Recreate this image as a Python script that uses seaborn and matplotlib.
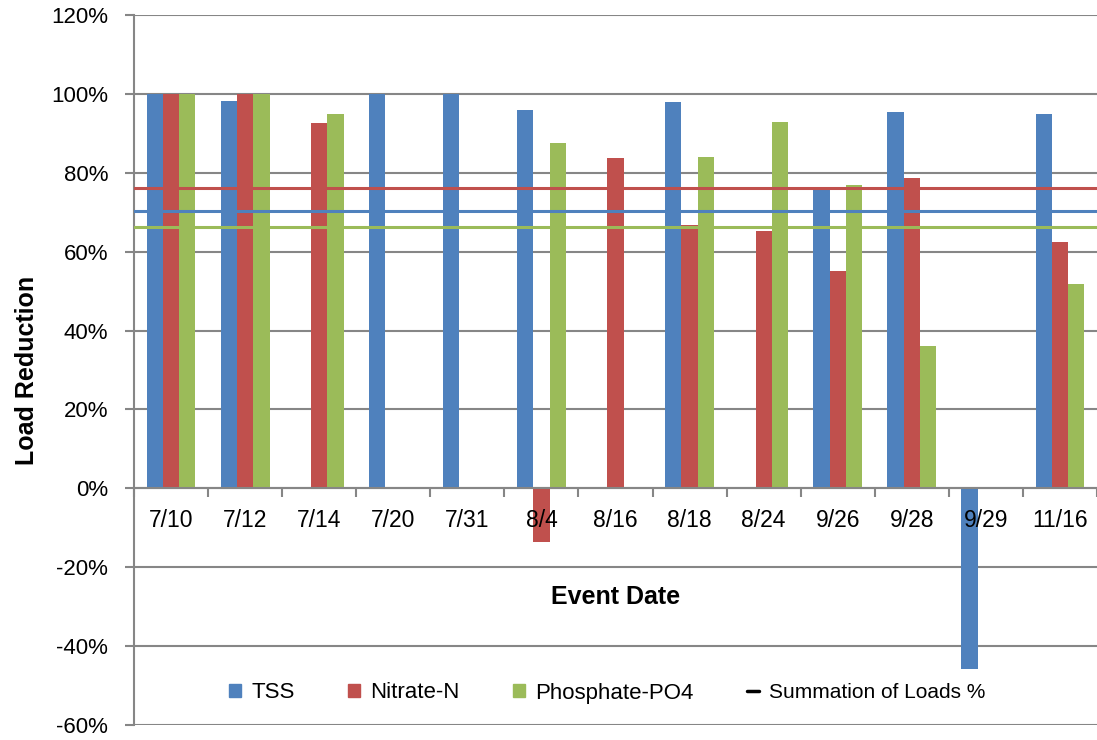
import numpy as np
import pandas as pd
import matplotlib
matplotlib.use("Agg")
import matplotlib.pyplot as plt
from matplotlib.lines import Line2D
import seaborn as sns

# data
dates = ['7/10', '7/12', '7/14', '7/20', '7/31', '8/4', '8/16', '8/18', '8/24', '9/26', '9/28', '9/29', '11/16']
tss = [100, 98.3, np.nan, 100, 100, 95.9, np.nan, 98.0, np.nan, 76.3, 95.3, -45.9, 95.0]
nitrate = [100, 100, 92.5, np.nan, np.nan, -13.6, 83.8, 66.8, 65.3, 55.0, 78.8, np.nan, 62.4]
phosphate = [100, 100, 94.9, np.nan, np.nan, 87.6, np.nan, 84.0, 92.9, 76.9, 36.0, np.nan, 51.7]
series_names = ['TSS', 'Nitrate-N', 'Phosphate-PO4']
summation = [70.4, 76.1, 66.2]  # TSS, Nitrate-N, Phosphate-PO4
colors = ['#4F81BD', '#C0504D', '#9BBB59']

df = pd.DataFrame({'date': dates, 'TSS': tss, 'Nitrate-N': nitrate, 'Phosphate-PO4': phosphate})
long_df = df.melt(id_vars='date', var_name='series', value_name='reduction')

sns.set_style("white")
plt.rcParams['font.family'] = ['Liberation Sans', 'DejaVu Sans']
plt.rcParams['text.color'] = 'black'
plt.rcParams['axes.labelcolor'] = 'black'
plt.rcParams['xtick.color'] = 'black'
plt.rcParams['ytick.color'] = 'black'

fig = plt.figure(figsize=(10.97, 7.40), dpi=100)
ax = fig.add_axes([134 / 1097, 15 / 740, 963 / 1097, 710 / 740])

sns.barplot(data=long_df, x='date', y='reduction', hue='series', order=dates,
            hue_order=series_names, palette=colors, errorbar=None, width=0.66,
            gap=0, saturation=1, ax=ax, zorder=2, edgecolor='none')

# summation lines
for val, c in zip(summation, colors):
    ax.axhline(val, color=c, lw=2.2, zorder=3)

ax.set_ylim(-60, 120)
ax.set_xlim(-0.5, len(dates) - 0.5)
ax.set_yticks(range(-60, 121, 20))
ax.set_yticklabels([f'{v}%' for v in range(-60, 121, 20)], fontsize=16)
ax.yaxis.grid(True, color='#868686', lw=1.5, zorder=0)
ax.set_axisbelow(True)

for s in ['top', 'right']:
    ax.spines[s].set_visible(False)
ax.spines['left'].set_color('#868686')
ax.spines['left'].set_linewidth(1.5)
ax.spines['bottom'].set_position(('data', 0))
ax.spines['bottom'].set_color('#868686')
ax.spines['bottom'].set_linewidth(1.5)

# category labels drawn as text so they sit above the bars
ax.set_xticks(range(len(dates)))
ax.set_xticklabels([])
ax.tick_params(axis='x', which='major', length=0)
for i, d in enumerate(dates):
    ax.text(i, -8.2, d, ha='center', va='center', fontsize=16.5, zorder=6)
ax.set_xticks(np.arange(-0.5, len(dates), 1), minor=True)
ax.tick_params(axis='x', which='minor', length=6.5, color='#868686', width=1.5, direction='out', bottom=True)
ax.tick_params(axis='y', length=6.5, color='#868686', width=1.5, direction='out', left=True, pad=12)

ax.set_xlabel('Event Date', fontsize=18, fontweight='bold', va='center')
ax.xaxis.set_label_coords(0.5, (725 - 597) / 710)
ax.set_ylabel('Load Reduction', fontsize=18, fontweight='bold', labelpad=9)

handles = [plt.Rectangle((0, 0), 1, 1, color=c) for c in colors]
handles.append(Line2D([0], [0], color='black', lw=2.5))
labels = series_names + ['Summation of Loads %']
leg = ax.legend(handles, labels, loc='center', bbox_to_anchor=((607 - 134) / 963, (725 - 693) / 710),
                ncol=4, frameon=False, fontsize=16, handlelength=0.55, handleheight=0.55,
                columnspacing=2.4, handletextpad=0.45)
leg.get_texts()[3].set_fontsize(15)

fig.savefig('out.png', dpi=100)
